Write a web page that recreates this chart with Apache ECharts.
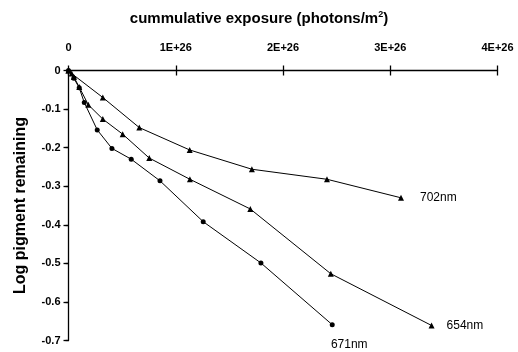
<!DOCTYPE html>
<html><head><meta charset="utf-8">
<script src="https://cdn.jsdelivr.net/npm/echarts@6/dist/echarts.min.js"></script>
<style>html,body{margin:0;padding:0;background:#fff}#c{width:518px;height:352px}</style>
</head><body><div id="c"></div>
<script>
// exposure in units of 1E+26 photons/m^2
const x702 = [0, 0.03, 0.32, 0.66, 1.13, 1.71, 2.41, 3.10];
const y702 = [0, -0.008, -0.070, -0.148, -0.206, -0.256, -0.282, -0.330];
const x654 = [0, 0.05, 0.10, 0.185, 0.32, 0.505, 0.753, 1.132, 1.695, 2.446, 3.385];
const y654 = [0, -0.017, -0.043, -0.089, -0.126, -0.165, -0.227, -0.282, -0.359, -0.527, -0.661];
const x671 = [0, 0.05, 0.10, 0.147, 0.268, 0.405, 0.585, 0.853, 1.256, 1.794, 2.459];
const y671 = [0, -0.020, -0.045, -0.083, -0.154, -0.202, -0.230, -0.286, -0.392, -0.499, -0.659];
const xTickLabels = ['0', '1E+26', '2E+26', '3E+26', '4E+26'];
const yTickLabels = ['0', '-0.1', '-0.2', '-0.3', '-0.4', '-0.5', '-0.6', '-0.7'];
const seriesNames = ['702nm', '654nm', '671nm'];

const SCALE = 1e26;
const FONT = 'Liberation Sans';

function build(xs, ys, lastLabel) {
  return xs.map((x, i) => {
    const item = { value: [x * SCALE, ys[i]] };
    if (i === xs.length - 1) item.label = lastLabel;
    return item;
  });
}
const lblBase = { show: true, color: '#000', fontFamily: FONT, fontSize: 12 };

const chart = echarts.init(document.getElementById('c'), null, { renderer: 'canvas' });
const axisX = {
  type: 'value', position: 'top', min: 0, max: 4 * SCALE, interval: SCALE,
  axisLine: { show: true, onZero: false, lineStyle: { color: '#000', width: 1.3 } },
  splitLine: { show: false }
};
const axisY = {
  type: 'value', min: -0.7, max: 0, interval: 0.1,
  axisLine: { show: true, onZero: false, lineStyle: { color: '#000', width: 1.3 } },
  splitLine: { show: false }
};
chart.setOption({
  animation: false,
  title: {
    text: '{a|cummulative exposure (photons/m}{s|2}{a|)}',
    left: 'center', top: 5,
    textStyle: {
      rich: {
        a: { fontFamily: FONT, fontWeight: 'bold', fontSize: 15, color: '#000' },
        s: { fontFamily: FONT, fontWeight: 'bold', fontSize: 9, color: '#000', verticalAlign: 'top', padding: [0, 0, 8, 0] }
      }
    }
  },
  grid: { left: 68.5, right: 20.5, top: 70.5, bottom: 11.5, containLabel: false },
  xAxis: [
    Object.assign({}, axisX, {
      axisTick: { show: true, length: 5, lineStyle: { color: '#000', width: 1.3 } },
      axisLabel: {
        show: true, margin: 17, color: '#000', fontFamily: FONT, fontWeight: 'bold', fontSize: 11,
        formatter: v => xTickLabels[Math.round(v / SCALE)]
      }
    }),
    Object.assign({}, axisX, {
      axisLine: { show: false },
      axisTick: { show: true, inside: true, length: 5, lineStyle: { color: '#000', width: 1.3 } },
      axisLabel: { show: false }
    })
  ],
  yAxis: [
    Object.assign({}, axisY, {
      name: 'Log pigment remaining', nameLocation: 'middle', nameGap: 40,
      nameTextStyle: { fontFamily: FONT, fontWeight: 'bold', fontSize: 16, color: '#000' },
      axisTick: { show: true, length: 5, lineStyle: { color: '#000', width: 1.3 } },
      axisLabel: {
        show: true, margin: 8, color: '#000', fontFamily: FONT, fontWeight: 'bold', fontSize: 11,
        formatter: v => yTickLabels[Math.round(-v * 10)]
      }
    }),
    Object.assign({}, axisY, {
      axisLine: { show: false },
      axisTick: { show: true, inside: true, length: 3, lineStyle: { color: '#000', width: 1.3 } },
      axisLabel: { show: false }
    })
  ],
  series: [
    {
      name: seriesNames[0], type: 'line', xAxisIndex: 0, yAxisIndex: 0,
      symbol: 'triangle', symbolSize: 6,
      lineStyle: { color: '#000', width: 1 }, itemStyle: { color: '#000' },
      data: build(x702, y702, Object.assign({}, lblBase, { position: 'right', distance: 16, formatter: seriesNames[0] }))
    },
    {
      name: seriesNames[1], type: 'line', xAxisIndex: 0, yAxisIndex: 0,
      symbol: 'triangle', symbolSize: 6,
      lineStyle: { color: '#000', width: 1 }, itemStyle: { color: '#000' },
      data: build(x654, y654, Object.assign({}, lblBase, { position: 'right', distance: 12, formatter: seriesNames[1] }))
    },
    {
      name: seriesNames[2], type: 'line', xAxisIndex: 0, yAxisIndex: 0,
      symbol: 'circle', symbolSize: 5,
      lineStyle: { color: '#000', width: 1 }, itemStyle: { color: '#000' },
      data: build(x671, y671, Object.assign({}, lblBase, { position: 'bottom', distance: 12, offset: [17, 0], formatter: seriesNames[2] }))
    }
  ]
});
</script>
</body></html>
